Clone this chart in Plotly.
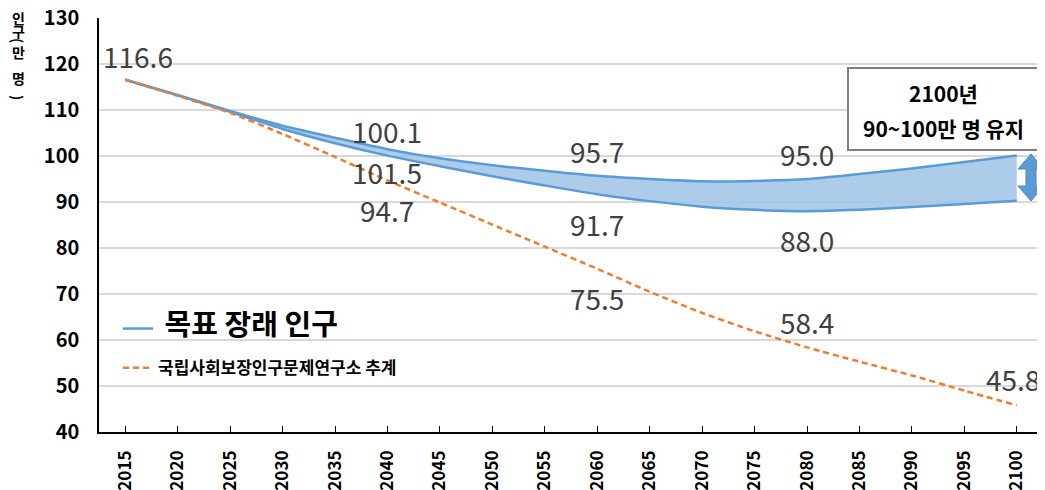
import plotly.graph_objects as go

years = [str(y) for y in range(2015, 2101, 5)]
upper = [116.6, 113.3, 109.8, 106.6, 104.0, 101.5, 99.5, 98.0, 96.8, 95.7,
         95.0, 94.5, 94.6, 95.0, 96.1, 97.3, 98.7, 100.1]
lower = [116.6, 113.2, 109.6, 105.9, 102.8, 100.1, 97.8, 95.6, 93.6, 91.7,
         90.2, 89.0, 88.3, 88.0, 88.3, 88.9, 89.6, 90.3]
ipss = [116.6, 113.1, 109.4, 104.8, 99.8, 94.7, 89.9, 85.1, 80.3, 75.5,
        70.5, 65.9, 61.9, 58.4, 55.3, 52.3, 49.0, 45.8]
y_ticks = [40, 50, 60, 70, 80, 90, 100, 110, 120, 130]

name_target = "목표 장래 인구"
name_ipss = "국립사회보장인구문제연구소 추계"
box_lines = ["2100년", "90~100만 명 유지"]
ytitle_chars = ["인", "구", "(", "만", "명", ")"]

# labelled points: (series key, year)
label_points = [("ipss", "2015"), ("lower", "2040"), ("upper", "2040"), ("ipss", "2040"),
                ("upper", "2060"), ("lower", "2060"), ("ipss", "2060"),
                ("upper", "2080"), ("lower", "2080"), ("ipss", "2080"),
                ("ipss", "2100")]
label_shift = [(13, 24), (0, 25), (0, -23), (0, -30),
               (0, 25), (0, -30), (0, -29),
               (0, 25), (0, -29), (0, 25),
               (-4, 26)]
series = {"upper": upper, "lower": lower, "ipss": ipss}

FONT = "Noto Sans CJK KR"
BLUE = "#5B9BD5"
ORANGE = "#ED7D31"

# the page body adds an 8px offset; margins compensate so the plot area
# lands at x 99..1043, y 18..432 of the window
W, H = 1045, 490
OFF = 8
L, T = 99 - OFF, 18 - OFF
R, B = W - (1043 - OFF), H - (432 - OFF)
PW, PH = W - L - R, H - T - B


def px(xw):
    return (xw - OFF - L) / PW


def py(yw):
    return (H - B - (yw - OFF)) / PH


fig = go.Figure()
fig.add_trace(go.Scatter(
    x=years, y=upper, mode="lines",
    name=f"<b><span style='font-size:29px'> {name_target}</span></b>",
    line=dict(color=BLUE, width=2.5, shape="spline", smoothing=0.6),
    legendgroup="a", hoverinfo="skip"))
fig.add_trace(go.Scatter(
    x=years, y=lower, mode="lines", showlegend=False,
    line=dict(color=BLUE, width=2.5, shape="spline", smoothing=0.6),
    fill="tonexty", fillcolor="rgba(157,195,230,0.85)",
    legendgroup="a", hoverinfo="skip"))
fig.add_trace(go.Scatter(
    x=years, y=ipss, mode="lines", name=f"<b>{name_ipss}</b>",
    line=dict(color=ORANGE, width=2.5, dash="6px,4px", shape="spline", smoothing=0.6),
    legendgroup="b", hoverinfo="skip"))

annotations = []
for (key, yr), (dx, dy) in zip(label_points, label_shift):
    i = years.index(yr)
    v = series[key][i]
    annotations.append(dict(
        x=i, y=v, xref="x", yref="y", text=f"{v:.1f}", showarrow=False,
        xanchor="center", yanchor="middle",
        xshift=dx, yshift=dy, font=dict(family=FONT, size=28, color="#404040")))

# y-axis title, stacked upright characters
ytitle_y = [18, 31, 40, 52, 78, 97]
for ch, yy in zip(ytitle_chars, ytitle_y):
    annotations.append(dict(
        x=px(18), y=py(yy), xref="paper", yref="paper", text=f"<b>{ch}</b>",
        showarrow=False, xanchor="center", yanchor="middle",
        textangle=90 if ch in "()" else 0,
        font=dict(family=FONT, size=14, color="black")))

# callout box text
for txt, yy in zip(box_lines, [93, 128]):
    annotations.append(dict(
        x=px(943), y=py(yy), xref="paper", yref="paper", text=f"<b>{txt}</b>",
        showarrow=False, xanchor="center", yanchor="middle",
        font=dict(family=FONT, size=21, color="black")))

shapes = [
    dict(type="rect", xref="paper", yref="paper", x0=px(848), x1=px(1038),
         y0=py(150), y1=py(68), line=dict(color="#7f7f7f", width=2),
         fillcolor="white", layer="above"),
    dict(type="path", xref="paper", yref="paper",
         xsizemode="pixel", xanchor=px(1031), ysizemode="pixel", yanchor=py(177.5),
         path="M 0,23.5 L 13,8.5 L 5,8.5 L 5,-8.5 L 13,-8.5 L 0,-23.5 "
              "L -13,-8.5 L -5,-8.5 L -5,8.5 L -13,8.5 Z",
         fillcolor=BLUE, line=dict(color="#4A88C7", width=1), layer="above"),
]

fig.update_layout(
    width=W, height=H, margin=dict(l=L, r=R, t=T, b=B, autoexpand=False),
    paper_bgcolor="white", plot_bgcolor="white",
    font=dict(family=FONT, color="black"),
    showlegend=True,
    legend=dict(x=px(118), y=py(311), xanchor="left", yanchor="top",
                bgcolor="rgba(0,0,0,0)", font=dict(family=FONT, size=17, color="black"),
                tracegroupgap=14, itemwidth=30),
    annotations=annotations, shapes=shapes,
)
fig.update_xaxes(
    type="category", categoryorder="array", categoryarray=years, range=[-0.5, 17.5],
    tickangle=-90, tickfont=dict(family=FONT, size=17, color="black", weight="bold"),
    ticks="inside", ticklen=6, tickcolor="black", tickwidth=1,
    showline=True, linecolor="black", linewidth=1.5, showgrid=False,
    ticklabelstandoff=10, automargin=False, fixedrange=True)
fig.update_yaxes(
    range=[40, 130.02], tickvals=y_ticks,
    ticktext=[f"{v}\u2002\u2009" for v in y_ticks],
    tickfont=dict(family=FONT, size=20, color="black", weight="bold"),
    showgrid=True, gridcolor="#d9d9d9", gridwidth=1.5,
    showline=True, linecolor="black", linewidth=1.5, ticks="",
    ticklabeloverflow="allow",
    zeroline=False, automargin=False, fixedrange=True)

fig.write_html("out.html")
